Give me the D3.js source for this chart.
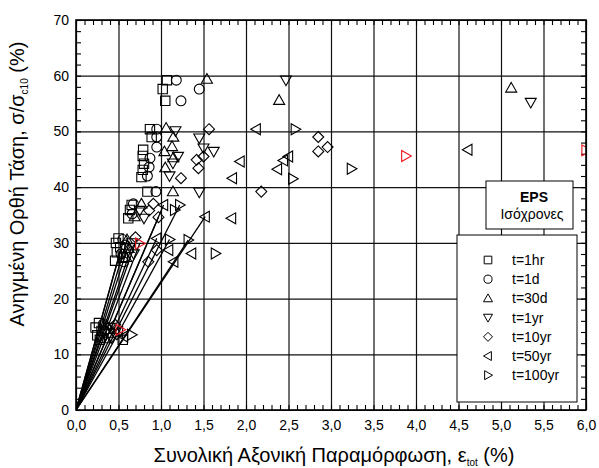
<!DOCTYPE html>
<html>
<head>
<meta charset="utf-8">
<script src="https://cdn.jsdelivr.net/npm/d3@7"></script>
<style>
  body { margin: 0; background: #fff; }
  svg { display: block; }
  text { font-family: "Liberation Sans", Arial, Helvetica, sans-serif; fill: #000; }
</style>
</head>
<body>
<svg id="chart" width="599" height="468"></svg>
<script>
// ---- data: [total axial strain ε_tot (%), normalised stress σ/σc10 (%)] ----
const seriesNames = ["t=1hr", "t=1d", "t=30d", "t=1yr", "t=10yr", "t=50yr", "t=100yr"];
const seriesSymbols = ["square", "circle", "up", "down", "diamond", "left", "right"];

const t1hr = [
  [1.07, 59.2], [1.02, 57.6], [1.05, 55.5],
  [0.87, 50.4], [0.89, 49.0], [0.79, 46.7], [0.785, 45.6], [0.80, 44.2], [0.785, 43.1], [0.77, 41.8], [0.84, 39.2],
  [0.655, 36.8], [0.635, 35.9], [0.615, 34.4],
  [0.50, 30.8], [0.47, 30.0], [0.52, 29.2], [0.48, 28.3], [0.55, 27.3], [0.46, 26.8],
  [0.27, 15.6], [0.23, 14.8], [0.30, 14.2], [0.25, 13.4], [0.28, 12.6], [0.55, 12.6]
];
const t1d = [
  [1.18, 59.2], [1.45, 57.6], [1.235, 55.5],
  [0.95, 50.4], [0.95, 49.0], [0.95, 47.2], [0.87, 45.2], [0.86, 43.6], [0.84, 42.0], [0.94, 39.2],
  [0.675, 37.0], [0.66, 35.2],
  [0.55, 30.6], [0.58, 29.6], [0.53, 28.0], [0.56, 26.6],
  [0.32, 15.4], [0.34, 14.2], [0.30, 13.0]
];
const t30d = [
  [1.54, 59.4], [2.39, 55.6], [5.12, 57.8],
  [1.06, 50.6], [1.145, 49.0], [1.13, 47.3], [1.04, 46.4], [1.145, 45.3], [1.05, 43.5], [1.14, 39.2],
  [0.77, 37.0], [0.69, 34.7],
  [0.60, 30.6], [0.62, 29.0], [0.59, 27.4],
  [0.36, 15.2], [0.38, 13.8], [0.34, 12.8]
];
const t1yr = [
  [2.47, 59.2], [5.35, 55.2],
  [1.17, 50.1], [1.45, 48.8], [1.50, 47.0], [1.62, 46.4], [1.14, 44.3], [1.20, 45.5], [1.10, 42.0], [1.45, 39.1],
  [0.75, 35.8], [0.80, 34.4],
  [0.66, 30.0], [0.68, 28.0],
  [0.40, 14.8], [0.42, 13.0]
];
const t10yr = [
  [1.565, 50.4], [1.50, 45.5], [1.42, 44.9], [1.44, 43.4], [1.235, 41.6], [2.18, 39.2],
  [2.85, 49.0], [2.85, 46.4], [2.96, 47.2],
  [0.91, 37.0], [0.86, 35.8], [0.97, 34.6],
  [0.95, 28.7], [0.85, 26.6], [0.70, 31.0],
  [0.46, 15.3], [0.48, 13.6]
];
const t50yr = [
  [4.61, 46.7], [2.12, 50.4], [1.93, 44.6], [1.84, 41.6], [2.37, 43.2], [2.44, 44.8], [2.50, 45.5],
  [1.03, 36.8], [1.52, 34.7], [1.83, 34.4],
  [0.95, 30.8], [1.09, 28.7], [1.36, 28.1], [1.15, 26.6],
  [0.56, 13.2], [0.50, 14.0]
];
const t100yr = [
  [2.58, 50.4], [2.55, 41.5], [3.24, 43.3],
  [1.22, 36.8], [1.16, 35.9],
  [1.10, 30.6], [1.32, 30.5], [1.64, 28.1],
  [0.655, 13.5]
];
// t=100yr readings highlighted in red
const t100yrRed = [[3.88, 45.6], [6.0, 46.6], [0.75, 29.9], [0.52, 14.4]];

// secant lines drawn from the origin to these readings
const secantEnds = [
  [1.52, 34.7], [1.32, 30.5], [1.22, 36.8], [1.10, 30.6], [1.03, 36.8], [0.95, 30.8], [0.97, 34.6],
  [0.75, 29.9], [0.70, 30.0], [0.66, 29.5], [0.63, 30.2], [0.60, 30.5], [0.55, 30.0], [0.52, 28.5]
];

const xMajor = d3.range(0, 6.001, 0.5);
const xMinor = d3.range(0, 6.001, 0.1);
const yMajor = d3.range(0, 70.001, 10);
const yMinor = d3.range(0, 70.001, 2);

// ---- layout ----
const svg = d3.select("#chart");
const L = 76, R = 586, T = 20, B = 410;
const x = d3.scaleLinear().domain([0, 6]).range([L, R]);
const y = d3.scaleLinear().domain([0, 70]).range([B, T]);

const commaFmt = v => d3.format(".1f")(v).replace(".", ",");

// grid
svg.append("g").attr("transform", `translate(0,${B})`)
  .call(d3.axisBottom(x).tickValues(xMajor).tickSize(-(B - T)).tickFormat(""))
  .call(g => g.select(".domain").remove())
  .call(g => g.selectAll("line").attr("stroke", "#111").attr("stroke-width", 1.2));
svg.append("g").attr("transform", `translate(${L},0)`)
  .call(d3.axisLeft(y).tickValues(yMajor).tickSize(-(R - L)).tickFormat(""))
  .call(g => g.select(".domain").remove())
  .call(g => g.selectAll("line").attr("stroke", "#111").attr("stroke-width", 1.2));

// inward minor ticks on all four sides
const tickStyle = g => { g.select(".domain").remove(); g.selectAll("line").attr("stroke", "#000").attr("stroke-width", 1.1); };
svg.append("g").attr("transform", `translate(0,${B})`)
  .call(d3.axisBottom(x).tickValues(xMinor).tickSize(-5).tickFormat("")).call(tickStyle);
svg.append("g").attr("transform", `translate(0,${T})`)
  .call(d3.axisTop(x).tickValues(xMinor).tickSize(-5).tickFormat("")).call(tickStyle);
svg.append("g").attr("transform", `translate(${L},0)`)
  .call(d3.axisLeft(y).tickValues(yMinor).tickSize(-5).tickFormat("")).call(tickStyle);
svg.append("g").attr("transform", `translate(${R},0)`)
  .call(d3.axisRight(y).tickValues(yMinor).tickSize(-5).tickFormat("")).call(tickStyle);

// tick labels
svg.append("g").attr("transform", `translate(0,${B})`)
  .call(d3.axisBottom(x).tickValues(xMajor).tickSize(0).tickPadding(10).tickFormat(commaFmt))
  .call(g => g.select(".domain").remove())
  .call(g => g.selectAll("text").attr("font-size", 14).attr("font-family", "Liberation Sans, Arial, sans-serif"));
svg.append("g").attr("transform", `translate(${L},0)`)
  .call(d3.axisLeft(y).tickValues(yMajor).tickSize(0).tickPadding(7).tickFormat(d3.format("d")))
  .call(g => g.select(".domain").remove())
  .call(g => g.selectAll("text").attr("font-size", 14).attr("font-family", "Liberation Sans, Arial, sans-serif"));

// plot clip
svg.append("clipPath").attr("id", "plotClip")
  .append("rect").attr("x", L).attr("y", T).attr("width", R - L).attr("height", B - T);
const plot = svg.append("g").attr("clip-path", "url(#plotClip)");

// secant lines from origin
plot.append("g").selectAll("line").data(secantEnds).join("line")
  .attr("x1", x(0)).attr("y1", y(0))
  .attr("x2", d => x(d[0])).attr("y2", d => y(d[1]))
  .attr("stroke", "#000").attr("stroke-width", 1.3);

// marker shapes
function symbolPath(kind, s) {
  const h = s / 2;
  switch (kind) {
    case "square": return `M${-h * 0.85},${-h * 0.85}h${s * 0.85}v${s * 0.85}h${-s * 0.85}Z`;
    case "circle": { const r = h * 0.9; return `M${r},0A${r},${r} 0 1,1 ${-r},0A${r},${r} 0 1,1 ${r},0Z`; }
    case "up": return `M0,${-h}L${h},${h * 0.75}L${-h},${h * 0.75}Z`;
    case "down": return `M0,${h}L${h},${-h * 0.75}L${-h},${-h * 0.75}Z`;
    case "left": return `M${-h},0L${h * 0.75},${-h}L${h * 0.75},${h}Z`;
    case "right": return `M${h},0L${-h * 0.75},${-h}L${-h * 0.75},${h}Z`;
    case "diamond": return `M0,${-h}L${h},0L0,${h}L${-h},0Z`;
  }
}

const allSeries = [t1hr, t1d, t30d, t1yr, t10yr, t50yr, t100yr];
allSeries.forEach((data, i) => {
  plot.append("g").selectAll("path").data(data).join("path")
    .attr("transform", d => `translate(${x(d[0])},${y(d[1])})`)
    .attr("d", symbolPath(seriesSymbols[i], 11))
    .attr("fill", "none").attr("stroke", "#000").attr("stroke-width", 1.1);
});
plot.append("g").selectAll("path").data(t100yrRed).join("path")
  .attr("transform", d => `translate(${x(d[0])},${y(d[1])})`)
  .attr("d", symbolPath("right", 11))
  .attr("fill", "none").attr("stroke", "#e8141b").attr("stroke-width", 1.1);

// frame
svg.append("rect").attr("x", L).attr("y", T).attr("width", R - L).attr("height", B - T)
  .attr("fill", "none").attr("stroke", "#000").attr("stroke-width", 1.6);

// title box
const tb = svg.append("g");
tb.append("rect").attr("x", 486).attr("y", 181).attr("width", 87).attr("height", 48)
  .attr("fill", "#fff").attr("stroke", "#000").attr("stroke-width", 1);
tb.append("text").attr("x", 534).attr("y", 202).attr("text-anchor", "middle")
  .attr("font-size", 14).attr("font-weight", "bold").text("EPS");
tb.append("text").attr("x", 532).attr("y", 219).attr("text-anchor", "middle")
  .attr("font-size", 14).text("Ισόχρονες");

// legend
const lg = svg.append("g");
lg.append("rect").attr("x", 457).attr("y", 235).attr("width", 120).attr("height", 167)
  .attr("fill", "#fff").attr("stroke", "#000").attr("stroke-width", 1);
seriesNames.forEach((name, i) => {
  const cy = 260 + i * 19.2;
  lg.append("path").attr("transform", `translate(488,${cy})`)
    .attr("d", symbolPath(seriesSymbols[i], 9))
    .attr("fill", "none").attr("stroke", "#000").attr("stroke-width", 1);
  lg.append("text").attr("x", 512).attr("y", cy + 5).attr("font-size", 14).text(name);
});

// axis titles
const xt = svg.append("text").attr("x", 334).attr("y", 462).attr("text-anchor", "middle").attr("font-size", 20);
xt.append("tspan").text("Συνολική Αξονική Παραμόρφωση, ε");
xt.append("tspan").attr("font-size", 10).attr("dy", 4).text("tot");
xt.append("tspan").attr("dy", -4).text(" (%)");

const yt = svg.append("text").attr("transform", "translate(24,184) rotate(-90)")
  .attr("text-anchor", "middle").attr("font-size", 20);
yt.append("tspan").text("Ανηγμένη Ορθή Τάση, σ/σ");
yt.append("tspan").attr("font-size", 10).attr("dy", 4).text("c10");
yt.append("tspan").attr("dy", -4).text(" (%)");
</script>
</body>
</html>
